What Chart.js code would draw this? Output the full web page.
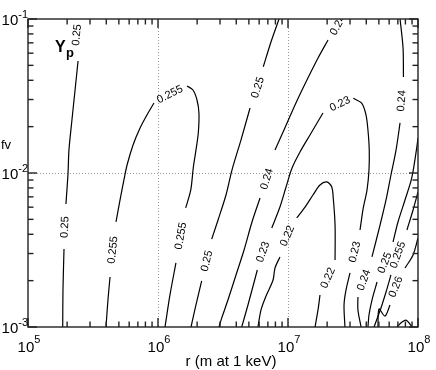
<!DOCTYPE html>
<html>
<head>
<meta charset="utf-8">
<script src="https://cdn.jsdelivr.net/npm/chart.js@4.4.1/dist/chart.umd.min.js"></script>
<style>
  html, body { margin: 0; padding: 0; background: #fff; }
  #wrap { width: 436px; height: 370px; position: relative; }
</style>
</head>
<body>
<div id="wrap"><canvas id="c"></canvas></div>
<script>
// axis decades (log10 values) and minor tick multipliers
const xDecades = [5, 6, 7, 8];
const yDecades = [-3, -2, -1];
const minorSteps = [2, 3, 4, 5, 6, 7, 8, 9];
const gridR = [1e6, 1e7];
const gridFv = [1e-2];

// contour paths as [log10 r, log10 fv]; null = gap for a label
const c250a = [[5.385,-1.273],[5.362,-1.461],[5.338,-1.656],[5.315,-1.851],[5.308,-2.000],[5.292,-2.201],null,
  [5.277,-2.494],[5.269,-2.760],[5.267,-3.000]];
const c255a = [[5.600,-3.000],[5.615,-2.825],[5.631,-2.675],null,[5.677,-2.318],[5.708,-2.175],[5.738,-2.045],
  [5.762,-1.948],[5.808,-1.818],[5.862,-1.708],[5.915,-1.623],[5.969,-1.545],null,[6.223,-1.435],[6.269,-1.461],
  [6.300,-1.526],[6.315,-1.610],[6.310,-1.740],[6.292,-1.851],[6.272,-1.961],[6.252,-2.110],[6.213,-2.227],null,
  [6.138,-2.584],[6.092,-2.792],[6.054,-3.000]];
const c250b = [[6.931,-1.000],[6.869,-1.149],[6.810,-1.310],null,[6.708,-1.578],[6.638,-1.786],[6.569,-1.981],
  [6.523,-2.143],[6.462,-2.305],[6.413,-2.429],null,[6.336,-2.701],[6.292,-2.857],[6.254,-3.000]];
const c240a = [[7.308,-1.136],[7.231,-1.253],[7.138,-1.409],[7.054,-1.558],[6.969,-1.721],[6.900,-1.851],null,
  [6.785,-2.162],[6.723,-2.318],[6.662,-2.500],[6.600,-2.662],[6.538,-2.825],[6.490,-2.942],[6.469,-3.000]];
const c230 = [[6.644,-3.000],[6.692,-2.857],[6.764,-2.630],null,[6.875,-2.357],[6.938,-2.221],[6.985,-2.091],
  [7.031,-1.968],[7.092,-1.864],[7.169,-1.753],[7.269,-1.610],null,[7.502,-1.515],[7.567,-1.547],[7.600,-1.623],
  [7.615,-1.721],[7.625,-1.851],[7.623,-1.981],[7.608,-2.110],[7.579,-2.227],[7.554,-2.370],null,
  [7.477,-2.649],[7.446,-2.760],[7.431,-2.857],[7.438,-3.000]];
const c220 = [[6.769,-3.000],[6.792,-2.890],[6.831,-2.799],[6.885,-2.695],[6.900,-2.617],[6.938,-2.545],null,
  [7.067,-2.292],[7.131,-2.221],[7.192,-2.143],[7.246,-2.078],[7.298,-2.058],[7.336,-2.089],[7.348,-2.162],
  [7.362,-2.338],[7.362,-2.565],null,[7.246,-2.792],[7.233,-2.877],[7.208,-3.000]];
const c240b = [[7.862,-1.000],[7.885,-1.188],[7.888,-1.377],null,[7.862,-1.675],[7.831,-1.851],[7.792,-2.013],
  [7.754,-2.175],[7.708,-2.338],[7.646,-2.545],null,[7.538,-2.805],[7.538,-2.890],[7.562,-3.000]];
const c250c = [[8.000,-1.773],[7.990,-1.838],[7.952,-2.032],[7.900,-2.175],[7.846,-2.318],[7.808,-2.448],null,
  [7.685,-2.708],[7.646,-2.825],[7.623,-2.922],[7.615,-3.000]];
const c255b = [[8.000,-2.123],[7.962,-2.240],[7.915,-2.370],null,[7.792,-2.662],[7.754,-2.773],[7.715,-2.877],
  [7.662,-3.000]];
const c260 = [[8.000,-2.422],[7.962,-2.532],[7.900,-2.617],null,[7.785,-2.857],[7.746,-2.929],[7.700,-2.883],
  [7.692,-3.000]];
const c265 = [[7.838,-3.000],[7.877,-2.968],[7.908,-2.955],[7.938,-2.981],[7.954,-3.000]];

const contours = [c250a, c255a, c250b, c240a, c230, c220, c240b, c250c, c255b, c260, c265];

// contour labels: [contour index, text, log10 r, log10 fv]
const contourLabels = [
  [0, '0.25', 5.377, -1.104], [0, '0.25', 5.285, -2.351],
  [1, '0.255', 5.654, -2.500], [1, '0.255', 6.092, -1.490], [1, '0.255', 6.177, -2.409],
  [2, '0.25', 6.769, -1.445], [2, '0.25', 6.377, -2.571],
  [3, '0.24', 7.385, -1.040], [3, '0.24', 6.838, -2.039],
  [4, '0.23', 6.808, -2.513], [4, '0.23', 7.400, -1.552], [4, '0.23', 7.515, -2.513],
  [5, '0.22', 6.996, -2.409], [5, '0.22', 7.308, -2.682],
  [6, '0.24', 7.875, -1.532], [6, '0.24', 7.585, -2.695],
  [7, '0.25', 7.746, -2.584],
  [8, '0.255', 7.846, -2.532],
  [9, '0.26', 7.831, -2.740]
];

const FONT = '"Liberation Sans", Arial, Helvetica, sans-serif';

// split every contour at its gaps into separate line datasets
const datasets = [];
contours.forEach(c => {
  let seg = [];
  c.forEach(p => {
    if (p === null) {
      if (seg.length) datasets.push(seg);
      seg = [];
    } else {
      seg.push({ x: Math.pow(10, p[0]), y: Math.pow(10, p[1]) });
    }
  });
  if (seg.length) datasets.push(seg);
});

const framePlugin = {
  id: 'frame',
  beforeDatasetsDraw(chart) {
    const { ctx, chartArea: a, scales: { x, y } } = chart;
    ctx.save();
    ctx.strokeStyle = '#999';
    ctx.lineWidth = 1;
    ctx.setLineDash([1, 2]);
    gridR.forEach(v => {
      const px = Math.round(x.getPixelForValue(v)) + 0.5;
      ctx.beginPath(); ctx.moveTo(px, a.top); ctx.lineTo(px, a.bottom); ctx.stroke();
    });
    gridFv.forEach(v => {
      const py = Math.round(y.getPixelForValue(v)) + 0.5;
      ctx.beginPath(); ctx.moveTo(a.left, py); ctx.lineTo(a.right, py); ctx.stroke();
    });
    ctx.restore();
  },
  afterDatasetsDraw(chart) {
    const { ctx, chartArea: a, scales: { x, y } } = chart;
    ctx.save();

    // contour labels, turned along the local direction of their contour
    ctx.save();
    ctx.beginPath(); ctx.rect(a.left, a.top, a.right - a.left, a.bottom - a.top); ctx.clip();
    ctx.fillStyle = '#000';
    ctx.font = '11px ' + FONT;
    ctx.textAlign = 'center';
    ctx.textBaseline = 'middle';
    contourLabels.forEach(([ci, txt, lx, ly]) => {
      const px = x.getPixelForValue(Math.pow(10, lx));
      const py = y.getPixelForValue(Math.pow(10, ly));
      const pts = contours[ci].filter(p => p !== null).map(p => ({
        x: x.getPixelForValue(Math.pow(10, p[0])), y: y.getPixelForValue(Math.pow(10, p[1]))
      }));
      pts.sort((p, q) => Math.hypot(p.x - px, p.y - py) - Math.hypot(q.x - px, q.y - py));
      let ang = Math.atan2(pts[1].y - pts[0].y, pts[1].x - pts[0].x);
      if (ang >= Math.PI / 2 - 1e-6) ang -= Math.PI;
      if (ang < -Math.PI / 2 - 1e-6) ang += Math.PI;
      ctx.save();
      ctx.translate(px, py);
      ctx.rotate(ang);
      ctx.fillText(txt, 0, 0);
      ctx.restore();
    });
    ctx.restore();

    // frame and inward ticks on all four sides
    ctx.strokeStyle = '#222';
    ctx.lineWidth = 1.4;
    ctx.strokeRect(a.left, a.top, a.right - a.left, a.bottom - a.top);
    const tick = (x1, y1, x2, y2) => { ctx.beginPath(); ctx.moveTo(x1, y1); ctx.lineTo(x2, y2); ctx.stroke(); };
    const major = 9, minor = 5.5;
    xDecades.forEach((d, i) => {
      const px = x.getPixelForValue(Math.pow(10, d));
      tick(px, a.bottom, px, a.bottom - major);
      tick(px, a.top, px, a.top + major);
      if (i < xDecades.length - 1) {
        minorSteps.forEach(m => {
          const qx = x.getPixelForValue(m * Math.pow(10, d));
          tick(qx, a.bottom, qx, a.bottom - minor);
          tick(qx, a.top, qx, a.top + minor);
        });
      }
    });
    yDecades.forEach((d, i) => {
      const py = y.getPixelForValue(Math.pow(10, d));
      tick(a.left, py, a.left + major, py);
      tick(a.right, py, a.right - major, py);
      if (i < yDecades.length - 1) {
        minorSteps.forEach(m => {
          const qy = y.getPixelForValue(m * Math.pow(10, d));
          tick(a.left, qy, a.left + minor, qy);
          tick(a.right, qy, a.right - minor, qy);
        });
      }
    });

    // tick labels as 10 with a superscript exponent
    ctx.fillStyle = '#000';
    ctx.textBaseline = 'alphabetic';
    ctx.textAlign = 'left';
    const big = '15px ' + FONT, sup = '11px ' + FONT;
    xDecades.forEach(d => {
      const px = x.getPixelForValue(Math.pow(10, d));
      ctx.font = big; const w1 = ctx.measureText('10').width;
      ctx.font = sup; const w2 = ctx.measureText(String(d)).width;
      const x0 = px - (w1 + w2) / 2 + 1;
      ctx.font = big; ctx.fillText('10', x0, a.bottom + 25);
      ctx.font = sup; ctx.fillText(String(d), x0 + w1, a.bottom + 16);
    });
    yDecades.forEach(d => {
      const py = y.getPixelForValue(Math.pow(10, d));
      ctx.font = big; const w1 = ctx.measureText('10').width;
      ctx.font = sup; const w2 = ctx.measureText(String(d)).width;
      const x0 = a.left - w1 - w2;
      ctx.font = big; ctx.fillText('10', x0, py + 6);
      ctx.font = sup; ctx.fillText(String(d), x0 + w1, py - 1);
    });

    // axis titles and the Yp tag
    ctx.font = '13px ' + FONT;
    ctx.fillText('fv', 1, 149);
    ctx.font = '15px ' + FONT;
    ctx.textAlign = 'center';
    ctx.fillText('r (m at 1 keV)', (a.left + a.right) / 2 + 8, a.bottom + 39);
    ctx.textAlign = 'left';
    ctx.font = 'bold 16px ' + FONT;
    ctx.fillText('Y', a.left + 27, a.top + 33);
    ctx.font = 'bold 13px ' + FONT;
    ctx.fillText('p', a.left + 38, a.top + 38);
    ctx.restore();
  }
};

new Chart(document.getElementById('c'), {
  type: 'line',
  data: {
    datasets: datasets.map(seg => ({
      data: seg,
      borderColor: '#000',
      borderWidth: 1.2,
      pointRadius: 0,
      tension: 0.3,
      fill: false
    }))
  },
  options: {
    responsive: true,
    maintainAspectRatio: false,
    animation: false,
    layout: { padding: { left: 28, top: 19, right: 18, bottom: 43 } },
    scales: {
      x: { type: 'logarithmic', min: 1e5, max: 1e8, display: false },
      y: { type: 'logarithmic', min: 1e-3, max: 1e-1, display: false }
    },
    plugins: { legend: { display: false }, tooltip: { enabled: false } }
  },
  plugins: [framePlugin]
});
</script>
</body>
</html>
